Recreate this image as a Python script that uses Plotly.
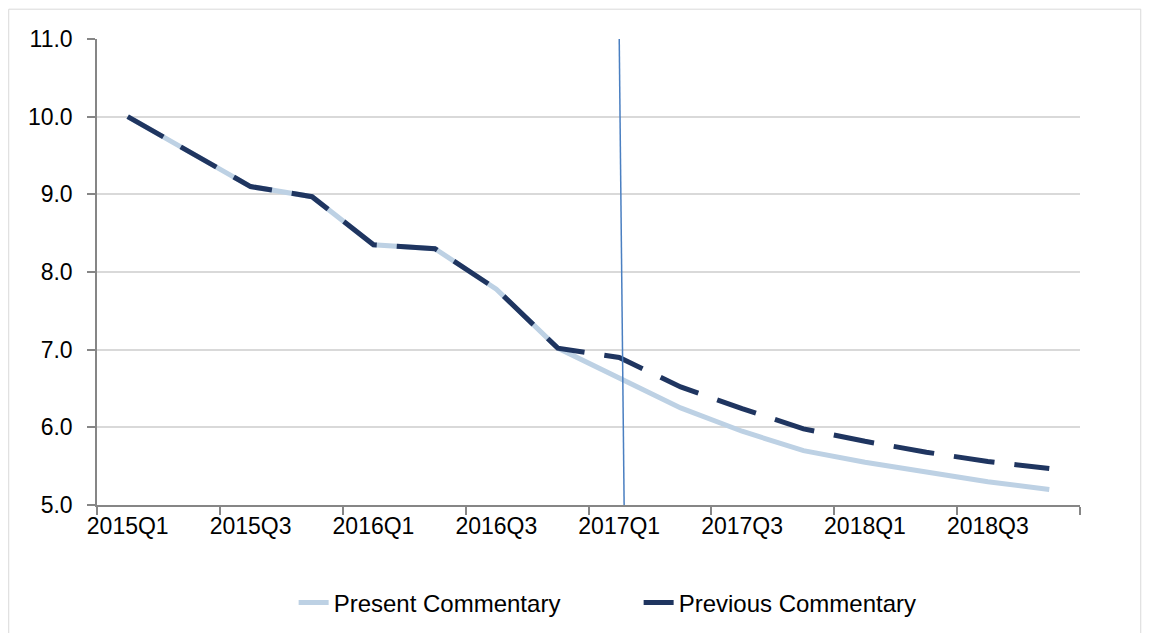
"""Present vs previous commentary projection, quarterly."""

import plotly.graph_objects as go

quarters = [
    "2015Q1", "2015Q2", "2015Q3", "2015Q4",
    "2016Q1", "2016Q2", "2016Q3", "2016Q4",
    "2017Q1", "2017Q2", "2017Q3", "2017Q4",
    "2018Q1", "2018Q2", "2018Q3", "2018Q4",
]
present = [10.0, 9.55, 9.1, 8.97, 8.35, 8.3, 7.78, 7.02,
           6.63, 6.25, 5.95, 5.7, 5.55, 5.42, 5.3, 5.2]
previous = [10.0, 9.55, 9.1, 8.97, 8.35, 8.3, 7.78, 7.02,
            6.9, 6.52, 6.24, 5.98, 5.82, 5.68, 5.56, 5.47]
y_ticks = [5.0, 6.0, 7.0, 8.0, 9.0, 10.0, 11.0]
forecast_start = "2017Q1"

_LIGHT = "#bdd1e4"
_DARK = "#1f3560"
_GRID = "#d9d9d9"
_AXIS = "#868686"
_TICK_FONT = dict(family="Liberation Sans, Arial, sans-serif", size=23, color="#000000")
_LEGEND_FONT = dict(family="Liberation Sans, Arial, sans-serif", size=24, color="#000000")

fig = go.Figure()
fig.add_trace(
    go.Scatter(
        x=quarters,
        y=present,
        mode="lines",
        name="Present Commentary",
        line=dict(color=_LIGHT, width=5),
    )
)
fig.add_trace(
    go.Scatter(
        x=quarters,
        y=previous,
        mode="lines",
        name="Previous Commentary",
        line=dict(color=_DARK, width=5, dash="41px,20px"),
    )
)

# hand-drawn marker line at the start of the forecast (slightly slanted)
fx = quarters.index(forecast_start)
fig.add_shape(
    type="line",
    xref="x", yref="y",
    x0=fx, y0=y_ticks[-1],
    x1=fx + 0.08, y1=y_ticks[0],
    line=dict(color="#4a7fc1", width=1.5),
)

# outer chart border
fig.add_shape(
    type="rect",
    xref="paper", yref="paper",
    x0=-0.0898, y0=-0.28, x1=1.0618, y1=1.064,
    line=dict(color=_GRID, width=1),
    layer="below",
)

# the page body adds an 8px offset, so the figure is sized to fit the window
fig.update_layout(
    width=1143,
    height=625,
    paper_bgcolor="white",
    plot_bgcolor="white",
    font=_TICK_FONT,
    showlegend=True,
    legend=dict(
        orientation="h",
        x=0.551,
        xanchor="center",
        y=-0.21,
        yanchor="middle",
        font=_LEGEND_FONT,
        entrywidth=300,
    ),
    margin=dict(l=89, r=71, t=31, b=128, autoexpand=False),
    xaxis=dict(
        type="category",
        range=[-0.5, len(quarters) - 0.5],
        dtick=2,
        tickson="boundaries",
        tickangle=0,
        ticks="outside",
        ticklen=8,
        tickwidth=1.5,
        tickcolor=_AXIS,
        showline=True,
        linecolor=_AXIS,
        linewidth=1.5,
        showgrid=False,
        zeroline=False,
        automargin=False,
        tickfont=_TICK_FONT,
    ),
    yaxis=dict(
        range=[y_ticks[0], y_ticks[-1]],
        tickvals=y_ticks,
        tickformat=".1f",
        ticks="outside",
        ticklen=8,
        tickwidth=1.5,
        tickcolor=_AXIS,
        showline=True,
        linecolor=_AXIS,
        linewidth=1.5,
        showgrid=True,
        gridcolor=_GRID,
        gridwidth=1.5,
        zeroline=False,
        automargin=False,
        ticklabelstandoff=10,
        tickfont=_TICK_FONT,
    ),
)

fig.write_html("out.html")
